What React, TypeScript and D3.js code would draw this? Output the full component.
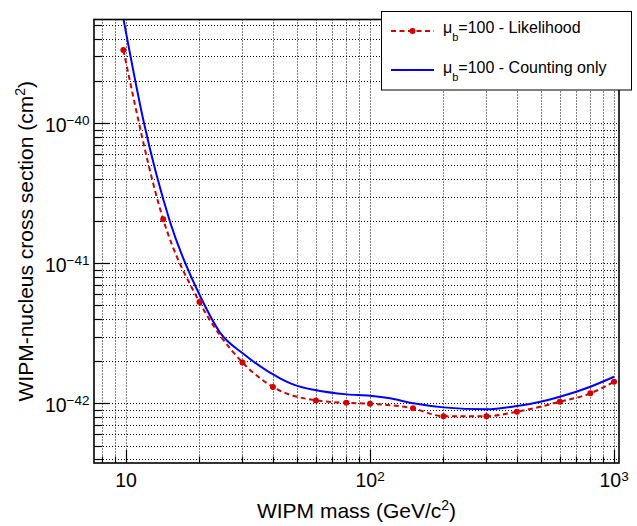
import React from "react";
import * as d3 from "d3";

// ---- data ----
const likelihoodMass = [9.75, 14.2, 20, 30, 40, 60, 80, 100, 150, 200, 300, 400, 600, 800, 1000];
const likelihoodSigma = [3.34e-40, 2.06e-41, 5.29e-42, 1.96e-42, 1.31e-42, 1.05e-42, 1.01e-42, 0.994e-42, 0.921e-42, 0.809e-42, 0.81e-42, 0.871e-42, 1.027e-42, 1.179e-42, 1.427e-42];

const countingMass = [9.75, 11.85, 15.14, 20.49, 24.28, 30.25, 42.77, 49.27, 59.5, 80.3, 100, 120.8, 150.5, 200, 300, 400, 500, 600, 800, 1000];
const countingSigma = [5.6e-40, 1.0e-40, 1.98e-41, 5.47e-42, 3.2e-42, 2.26e-42, 1.51e-42, 1.35e-42, 1.245e-42, 1.159e-42, 1.132e-42, 1.086e-42, 1.0e-42, 0.936e-42, 0.906e-42, 0.957e-42, 1.026e-42, 1.114e-42, 1.314e-42, 1.548e-42];

const xMajorTicks = [10, 100, 1000];
const xTickBase = ["10", "10", "10"];
const xTickExp = ["", "2", "3"];
const yMajorTicks = [1e-42, 1e-41, 1e-40];
const yTickExp = ["\u221242", "\u221241", "\u221240"];

const legendLabels = ["=100 - Likelihood", "=100 - Counting only"];
const xTitle = "WIPM mass (GeV/c";
const yTitle = "WIPM-nucleus cross section (cm";

const xDomain = [7.39, 1048];
const yDomain = [3.75e-43, 5.51e-40];

const W = 637, H = 526;
const L = 94, R = 619, T = 19.5, B = 463;
const FONT = "'Liberation Sans', Arial, Helvetica, sans-serif";
const RED = "#d40000";
const BLUE = "#0000ff";

export default function App() {
  const x = d3.scaleLog().domain(xDomain).range([L, R]);
  const y = d3.scaleLog().domain(yDomain).range([B, T]);

  const xGrid: number[] = [];
  for (let d = 0; d <= 3; d++) for (let k = 1; k <= 9; k++) {
    const v = k * Math.pow(10, d);
    if (v >= xDomain[0] && v <= xDomain[1]) xGrid.push(v);
  }
  const yGrid: number[] = [];
  for (let d = -43; d <= -40; d++) for (let k = 1; k <= 9; k++) {
    const v = k * Math.pow(10, d);
    if (v >= yDomain[0] && v <= yDomain[1]) yGrid.push(v);
  }
  const isMajorX = (v: number) => xMajorTicks.some((m) => Math.abs(m - v) / m < 1e-6);
  const isMajorY = (v: number) => yMajorTicks.some((m) => Math.abs(m - v) / m < 1e-6);
  const px = (v: number) => Math.round(v) + 0.5;

  const redPts = likelihoodMass.map((m, i) => [x(m), y(likelihoodSigma[i])] as [number, number]);
  const bluePts = countingMass.map((m, i) => [x(m), y(countingSigma[i])] as [number, number]);
  const redLine = d3.line().curve(d3.curveMonotoneX)(redPts) || "";
  const blueLine = d3.line().curve(d3.curveMonotoneX)(bluePts) || "";

  return (
    <svg width={W} height={H} style={{ position: "absolute", left: 0, top: 0, background: "#fff" }} fontFamily={FONT}>
      <defs>
        <clipPath id="plotclip">
          <rect x={L} y={T} width={R - L} height={B - T} />
        </clipPath>
      </defs>
      <rect x={0} y={0} width={W} height={H} fill="#fff" />
      {/* grid */}
      <g stroke="#000" strokeWidth={1} strokeDasharray="1,2">
        {xGrid.map((v) => (
          <line key={"gx" + v} x1={px(x(v))} x2={px(x(v))} y1={T} y2={B} />
        ))}
        {yGrid.map((v) => (
          <line key={"gy" + v} x1={L} x2={R} y1={px(y(v))} y2={px(y(v))} />
        ))}
      </g>
      {/* ticks */}
      <g stroke="#000" strokeWidth={1.2}>
        {xGrid.map((v) => (
          <line key={"tx" + v} x1={px(x(v))} x2={px(x(v))} y1={B} y2={B - (isMajorX(v) ? 13 : 6.5)} />
        ))}
        {yGrid.map((v) => (
          <line key={"ty" + v} x1={L} x2={L + (isMajorY(v) ? 16 : 8)} y1={px(y(v))} y2={px(y(v))} />
        ))}
      </g>
      {/* data */}
      <g clipPath="url(#plotclip)">
        <path d={blueLine} fill="none" stroke={BLUE} strokeWidth={2} />
        <path d={redLine} fill="none" stroke={RED} strokeWidth={2} strokeDasharray="5,3.5" />
        {redPts.map((p, i) => (
          <circle key={"m" + i} cx={p[0]} cy={p[1]} r={3} fill={RED} />
        ))}
      </g>
      {/* frame */}
      <rect x={L} y={T} width={R - L} height={B - T} fill="none" stroke="#000" strokeWidth={1.6} />
      {/* x tick labels */}
      {xMajorTicks.map((v, i) => (
        <text key={"xl" + v} x={x(v)} y={487} textAnchor="middle" fontSize={19.5} fill="#000">
          {xTickBase[i]}
          {xTickExp[i] ? (
            <tspan fontSize={13.5} dy={-6}>{xTickExp[i]}</tspan>
          ) : null}
        </text>
      ))}
      {/* y tick labels */}
      {yMajorTicks.map((v, i) => (
        <text key={"yl" + v} x={89.5} y={y(v) + 8.6} textAnchor="end" fontSize={19.5} fill="#000">
          10
          <tspan fontSize={13.5} dy={-7}>{yTickExp[i]}</tspan>
        </text>
      ))}
      {/* axis titles */}
      <text x={(L + R) / 2} y={518} textAnchor="middle" fontSize={21} fill="#000">
        {xTitle}
        <tspan fontSize={14} dy={-8}>2</tspan>
        <tspan dy={8}>)</tspan>
      </text>
      <text transform={`translate(33,${(T + B) / 2}) rotate(-90)`} textAnchor="middle" fontSize={21} fill="#000">
        {yTitle}
        <tspan fontSize={14} dy={-8}>2</tspan>
        <tspan dy={8}>)</tspan>
      </text>
      {/* legend */}
      <g>
        <rect x={381.5} y={11.5} width={250} height={78.5} fill="#fff" stroke="#000" strokeWidth={1} />
        <line x1={391} x2={434} y1={31} y2={31} stroke={RED} strokeWidth={2} strokeDasharray="5,3.5" />
        <circle cx={412.5} cy={31} r={3} fill={RED} />
        <line x1={391} x2={434} y1={70} y2={70} stroke={BLUE} strokeWidth={2} />
        {legendLabels.map((lab, i) => (
          <text key={"lg" + i} x={443} y={i === 0 ? 32.5 : 73.3} fontSize={16} fill="#000">
            {"\u03bc"}
            <tspan fontSize={11} dy={8}>b</tspan>
            <tspan dy={-8}>{lab}</tspan>
          </text>
        ))}
      </g>
    </svg>
  );
}
